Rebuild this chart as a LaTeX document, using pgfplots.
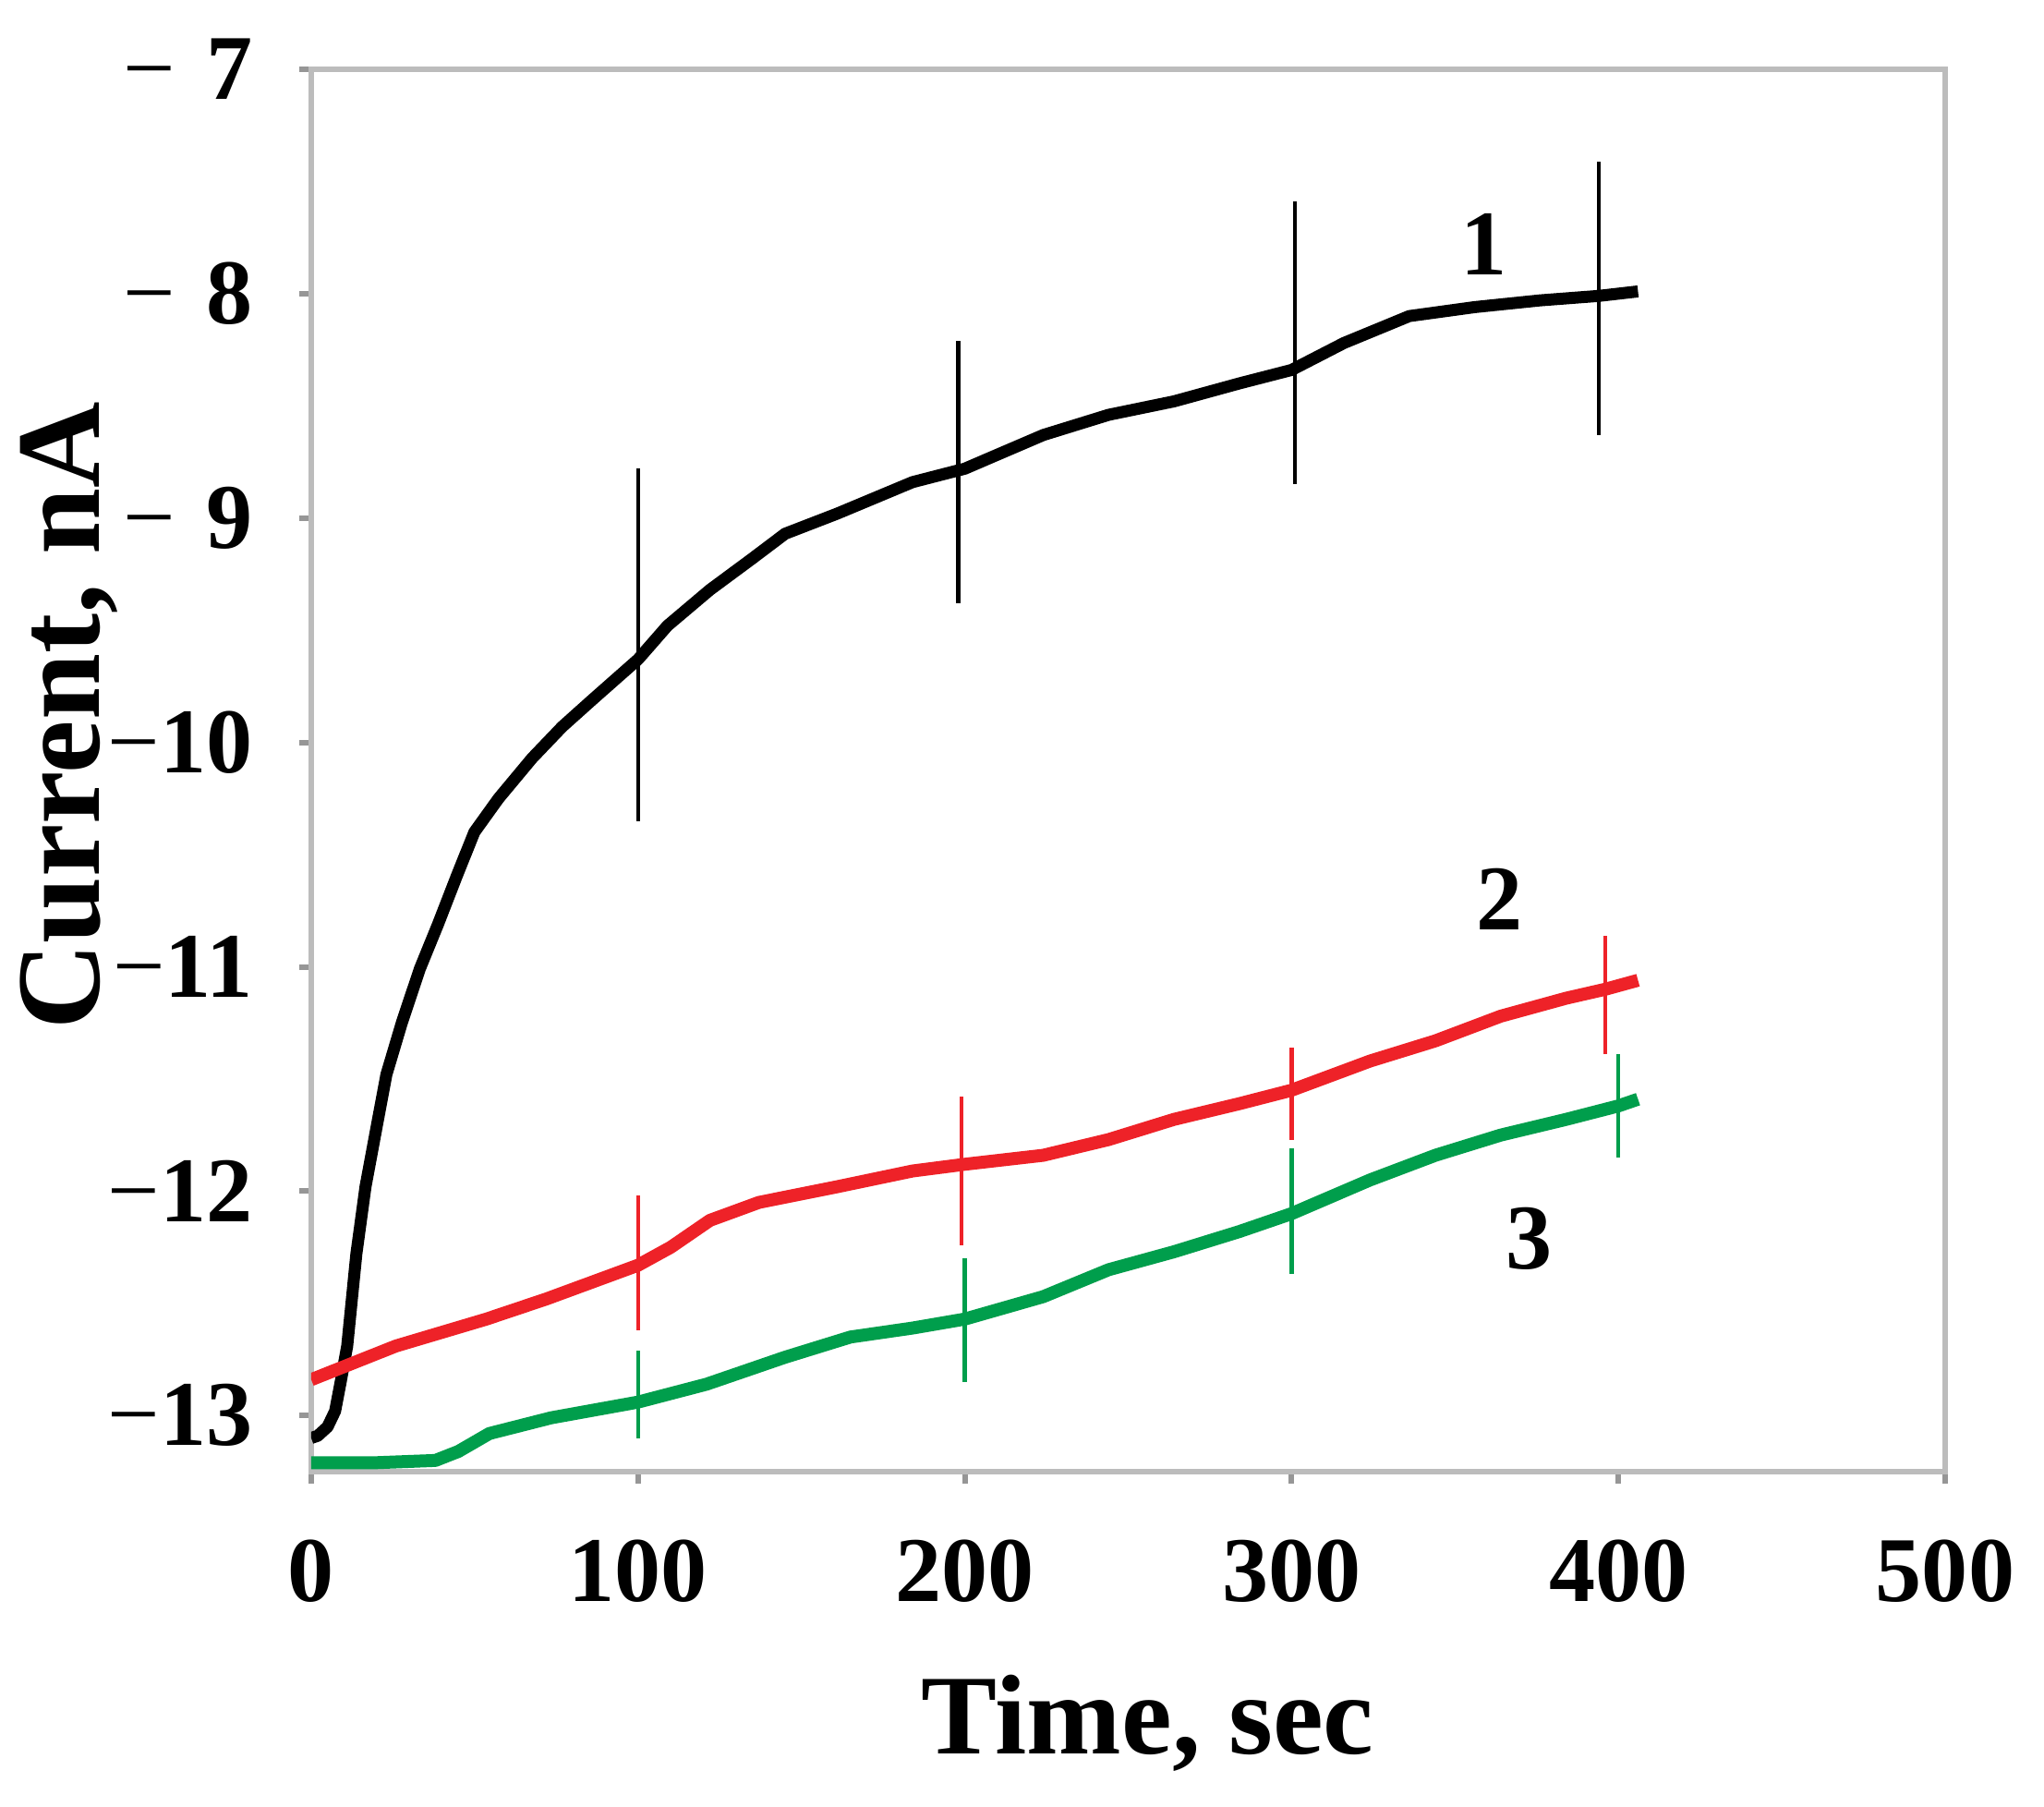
\documentclass[border=0pt]{standalone}
\usepackage{fontspec}
\setmainfont{Liberation Serif}
\usepackage{pgfplots}
\pgfplotsset{compat=1.18}
\definecolor{cred}{RGB}{238,34,40}
\definecolor{cgreen}{RGB}{0,158,76}
\definecolor{frame}{RGB}{188,188,188}
\newcommand\mn{{\fontseries{m}\selectfont −}}
\begin{document}
\begin{tikzpicture}
\begin{axis}[
  name=ax,
  scale only axis,
  width=17.69cm, height=15.18cm,
  xmin=0, xmax=500, ymin=-13.25, ymax=-7,
  xtick={0,100,200,300,400,500},
  xticklabels={0,100,200,300,400,500},
  ytick={-13,-12,-11,-10,-9,-8,-7},
  yticklabels={{\mn13},{\mn12},{\mn11},{\mn10},{\mn\,\,9},{\mn\,\,8},{\mn\,\,7}},
  axis line style={draw=frame, line width=0.065cm},
  tick align=outside,
  major tick length=0.13cm,
  tick style={draw=frame!80!black, line width=0.06cm},
  xtick pos=bottom, ytick pos=left,
  xticklabel style={font=\fontsize{28.5pt}{34pt}\selectfont\bfseries, inner sep=0pt, yshift=-0.6cm},
  yticklabel style={font=\fontsize{28.5pt}{34pt}\selectfont\bfseries, inner sep=0pt, xshift=-0.5cm},
  xlabel={Time, sec},
  ylabel={Current, nA},
  x label style={at={([yshift=-2.72cm]axis description cs:0.512,0)}, anchor=center, font=\fontsize{35pt}{40pt}\selectfont\bfseries},
  y label style={at={([xshift=-2.62cm]axis description cs:0,0.539)}, anchor=center, font=\fontsize{36.8pt}{42pt}\selectfont\bfseries},
]
% curve 1 (black)
\addplot[black, line width=0.13cm, line join=round] coordinates {
(0,-13.10) (2,-13.09) (5,-13.05) (7.3,-12.98) (9,-12.85) (11,-12.69) (13.8,-12.28)
(16.6,-11.98) (20.3,-11.69) (23,-11.48) (27.7,-11.25) (33.2,-11.01) (38.8,-10.81)
(44.4,-10.60) (49.9,-10.40) (57.3,-10.25) (67.6,-10.07) (76.8,-9.93) (86,-9.81)
(100,-9.63) (109,-9.48) (122,-9.32) (135,-9.18) (145,-9.07) (161,-8.98) (184,-8.84)
(200,-8.78) (224,-8.63) (244,-8.54) (264,-8.48) (284,-8.40) (300,-8.34) (316,-8.22)
(336,-8.10) (356,-8.06) (376,-8.03) (394,-8.01) (406,-7.99)
};
% curve 2 (red)
\addplot[cred, line width=0.14cm, line join=round] coordinates {
(0,-12.84) (25.9,-12.69) (53.6,-12.57) (72,-12.48) (100,-12.33) (110,-12.25) (122,-12.13)
(137,-12.05) (161,-11.98) (184,-11.91) (200,-11.88) (224,-11.84) (244,-11.77) (264,-11.68)
(284,-11.61) (300,-11.55) (324,-11.42) (344,-11.33) (364,-11.22) (384,-11.14) (396,-11.10)
(406,-11.06)
};
% curve 3 (green)
\addplot[cgreen, line width=0.14cm, line join=round] coordinates {
(0,-13.21) (20,-13.21) (38,-13.20) (45,-13.16) (54.5,-13.08) (73.4,-13.01) (100,-12.94)
(121,-12.86) (145,-12.74) (165,-12.65) (184,-12.61) (200,-12.57) (224,-12.47) (244,-12.35)
(264,-12.27) (284,-12.18) (300,-12.10) (324,-11.95) (344,-11.84) (364,-11.75) (384,-11.68)
(400,-11.62) (406,-11.59)
};
% error bars
\addplot[draw=none, mark=none, error bars/.cd, y dir=both, y explicit, error mark=none,
  error bar style={black, line width=0.045cm}] coordinates {
(100,-9.565) +- (0,0.785)
(198,-8.795) +- (0,0.585)
(301,-8.22) +- (0,0.63)
(394,-8.02) +- (0,0.61)
};
\addplot[draw=none, mark=none, error bars/.cd, y dir=both, y explicit, error mark=none,
  error bar style={cred, line width=0.045cm}] coordinates {
(100,-12.32) +- (0,0.30)
(199,-11.91) +- (0,0.33)
(300,-11.565) +- (0,0.205)
(396,-11.125) +- (0,0.265)
};
\addplot[draw=none, mark=none, error bars/.cd, y dir=both, y explicit, error mark=none,
  error bar style={cgreen, line width=0.045cm}] coordinates {
(100,-12.905) +- (0,0.195)
(200,-12.575) +- (0,0.275)
(300,-12.09) +- (0,0.28)
(400,-11.62) +- (0,0.23)
};
\node[font=\fontsize{28.5pt}{34pt}\selectfont\bfseries] at (axis cs:358.7,-7.78) {1};
\node[font=\fontsize{28.5pt}{34pt}\selectfont\bfseries] at (axis cs:363.5,-10.70) {2};
\node[font=\fontsize{28.5pt}{34pt}\selectfont\bfseries] at (axis cs:372.8,-12.21) {3};
\end{axis}
\pgfresetboundingbox
\path[use as bounding box] ([xshift=-3.37cm,yshift=-3.62cm]ax.south west) rectangle ([xshift=1.07cm,yshift=0.75cm]ax.north east);
\end{tikzpicture}
\end{document}
